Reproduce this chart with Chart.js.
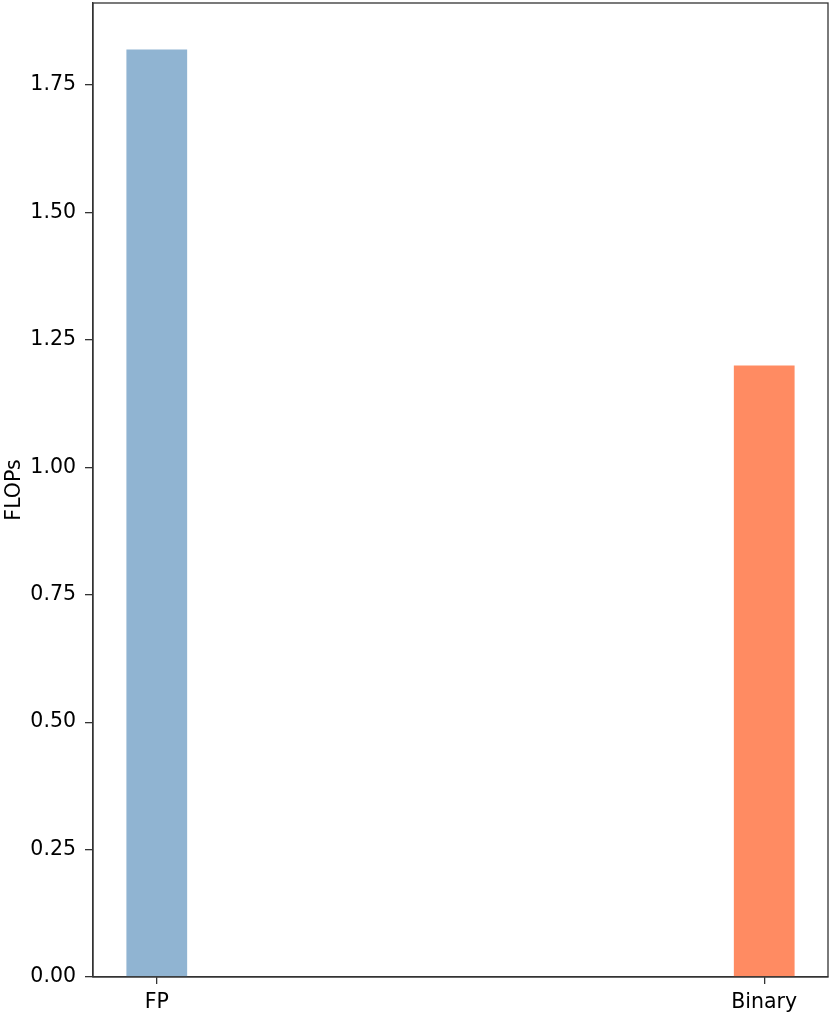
<!DOCTYPE html>
<html lang="en">
<head>
    <meta charset="UTF-8">
    <title>FLOPs</title>
    <script src="https://cdn.jsdelivr.net/npm/chart.js"></script>
    <style>
        html, body { margin: 0; padding: 0; background: white; }
        .chart-container { width: 830px; height: 1016px; }
    </style>
</head>
<body>
    <div class="chart-container">
        <canvas id="flopsChart"></canvas>
    </div>

    <script>
        const categories = ['FP', 'Binary'];
        const flops = [1.82, 1.20];
        const barColors = ['#90b4d2', '#ff8b62'];
        const yTicks = [0, 0.25, 0.5, 0.75, 1.0, 1.25, 1.5, 1.75];
        const yMax = 1.911;

        // top and right spines, like a matplotlib axes frame
        const framePlugin = {
            id: 'frame',
            afterDraw(chart) {
                const { ctx, chartArea: a } = chart;
                ctx.save();
                ctx.strokeStyle = '#333';
                ctx.lineWidth = 1.3;
                ctx.strokeRect(a.left, a.top, a.right - a.left, a.bottom - a.top);
                ctx.restore();
            }
        };

        const tickFont = { family: 'DejaVu Sans', size: 20.5 };

        new Chart(document.getElementById('flopsChart'), {
            type: 'bar',
            data: {
                datasets: [{
                    data: categories.map((c, i) => ({ x: i, y: flops[i] })),
                    backgroundColor: barColors,
                    borderWidth: 0,
                    barPercentage: 0.1,
                    categoryPercentage: 1
                }]
            },
            options: {
                responsive: true,
                maintainAspectRatio: false,
                animation: false,
                layout: { padding: { top: 3, right: 2, left: 0, bottom: 0 } },
                plugins: {
                    legend: { display: false },
                    tooltip: { enabled: false }
                },
                scales: {
                    x: {
                        type: 'linear',
                        offset: false,
                        min: -0.105,
                        max: 1.105,
                        afterBuildTicks: scale => {
                            scale.ticks = categories.map((c, i) => ({ value: i }));
                        },
                        afterFit: scale => {
                            scale.height = 39;
                            scale.paddingLeft = 0;
                            scale.paddingRight = 0;
                        },
                        ticks: {
                            color: '#000',
                            font: tickFont,
                            padding: 6,
                            maxRotation: 0,
                            callback: v => categories[v]
                        },
                        grid: { offset: false, drawOnChartArea: false, color: '#333', tickLength: 7, lineWidth: 1.3 },
                        border: { color: '#333', width: 1.3 }
                    },
                    y: {
                        min: 0,
                        max: yMax,
                        afterBuildTicks: scale => {
                            scale.ticks = yTicks.map(v => ({ value: v }));
                        },
                        afterFit: scale => {
                            scale.width = 93;
                            scale.paddingTop = 0;
                            scale.paddingBottom = 0;
                        },
                        title: {
                            display: true,
                            text: 'FLOPs',
                            color: '#000',
                            font: tickFont,
                            padding: { top: 2, bottom: 0 }
                        },
                        ticks: {
                            color: '#000',
                            font: tickFont,
                            padding: 9,
                            callback: v => v.toFixed(2)
                        },
                        grid: { drawOnChartArea: false, color: '#333', tickLength: 8, lineWidth: 1.3 },
                        border: { color: '#333', width: 1.3 }
                    }
                }
            },
            plugins: [framePlugin]
        });
    </script>
</body>
</html>
